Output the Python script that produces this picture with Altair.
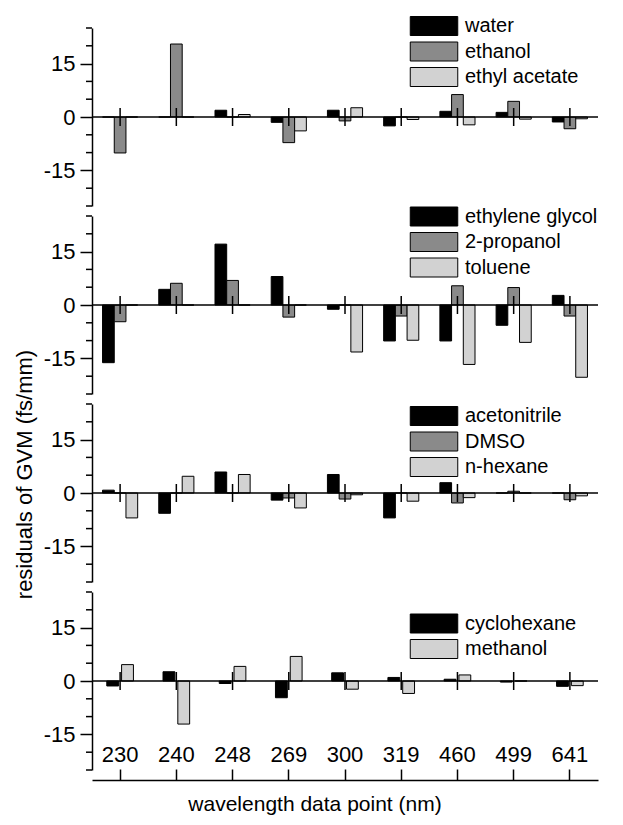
import altair as alt
import pandas as pd

# wavelength categories (x axis)
categories = ["230", "240", "248", "269", "300", "319", "460", "499", "641"]

# panel 1
p1_names = ["water", "ethanol", "ethyl acetate"]
water = [0, 0, 1.9, -1.5, 1.9, -2.5, 1.6, 1.3, -1.4]
ethanol = [-10.1, 20.5, 0, -7.2, -1.1, 0, 6.3, 4.4, -3.3]
ethyl_acetate = [0, 0, 0.7, -3.9, 2.6, -0.7, -2.2, -0.6, -0.5]

# panel 2
p2_names = ["ethylene glycol", "2-propanol", "toluene"]
ethylene_glycol = [-16.2, 4.4, 17.1, 8.0, -1.2, -10.1, -10.1, -5.7, 2.7]
propanol_2 = [-4.7, 6.1, 6.9, -3.4, 0, -3.1, 5.4, 4.9, -3.1]
toluene = [0, 0, 0, 0, -13.2, -9.9, -16.7, -10.5, -20.3]

# panel 3
p3_names = ["acetonitrile", "DMSO", "n-hexane"]
acetonitrile = [0.8, -5.7, 5.9, -2.0, 5.2, -7.0, 2.9, 0, 0]
dmso = [0, 0, 0, -1.4, -1.7, 0, -2.8, 0.5, -1.9]
n_hexane = [-7.0, 4.7, 5.2, -4.2, -0.5, -2.3, -1.3, 0, -0.8]

# panel 4
p4_names = ["cyclohexane", "methanol"]
cyclohexane = [-1.4, 2.6, -0.7, -4.7, 2.3, 1.0, 0.5, -0.3, -1.5]
methanol = [4.6, -12.1, 4.1, 6.9, -2.3, -3.5, 1.7, 0, -1.3]

y_major = [-15, 0, 15]
y_minor = [-25, -20, -10, -5, 5, 10, 20, 25]

FONT = "Liberation Sans"
W, H = 506, 178
SOLID, CROSS, DIAG = "#000000", "#8a8a8a", "#d2d2d2"

x_scale = alt.Scale(domain=categories, paddingInner=0, paddingOuter=0)
y_scale = alt.Scale(domain=[-25, 25], nice=False, zero=False)


def panel(names, series, fills, legend_y, pad_inner, pad_outer, y_title=False):
    rows = []
    for n, vals in zip(names, series):
        for c, v in zip(categories, vals):
            rows.append({"wl": c, "series": n, "value": v})
    df = pd.DataFrame(rows)

    axis_kw = dict(
        values=y_major,
        labelExpr="datum.value < 0 ? '-' + format(-datum.value, 'd') : format(datum.value, 'd')",
        labelOverlap=False,
        tickSize=12,
        tickColor="black", tickWidth=1.5, domainColor="black", domainWidth=1.5,
        labelFontSize=22, labelPadding=5, labelColor="black", labelFont=FONT,
        grid=False,
    )
    if y_title:
        axis_kw.update(title="residuals of GVM (fs/mm)", titleFontSize=22, titleFont=FONT,
                       titleFontWeight="normal", titleColor="black", titlePadding=7, titleY=70)
    else:
        axis_kw.update(title=None)

    bars = alt.Chart(df).mark_bar(stroke="black", strokeWidth=1).encode(
        x=alt.X("wl:N", sort=categories, scale=x_scale, axis=None),
        xOffset=alt.XOffset("series:N", sort=names,
                            scale=alt.Scale(domain=names, paddingInner=pad_inner, paddingOuter=pad_outer)),
        y=alt.Y("value:Q", scale=y_scale, axis=alt.Axis(**axis_kw)),
        fill=alt.Fill("series:N", sort=names, scale=alt.Scale(domain=names, range=fills),
                      legend=alt.Legend(orient="none", legendX=332, legendY=legend_y, title=None,
                                        symbolType="M-2.5,-1L2.5,-1L2.5,1L-2.5,1Z", symbolSize=361,
                                        symbolStrokeColor="black", symbolStrokeWidth=1,
                                        labelFontSize=20, labelFont=FONT, labelColor="black",
                                        labelOffset=21, rowPadding=1.5, padding=0)),
    )
    zero = alt.Chart(pd.DataFrame({"value": [0]})).mark_rule(color="black", strokeWidth=1.5).encode(
        y=alt.Y("value:Q", scale=y_scale, axis=alt.Axis(**axis_kw))
    )
    minor = alt.Chart(pd.DataFrame({"value": y_minor})).mark_rule(
        color="black", strokeWidth=1.5, clip=False
    ).encode(
        x=alt.value(-6), x2=alt.value(0),
        y=alt.Y("value:Q", scale=y_scale, axis=alt.Axis(**axis_kw)),
    )
    # category ticks crossing the zero line
    cat_ticks = alt.Chart(pd.DataFrame({"wl": categories})).mark_rule(
        color="black", strokeWidth=1.5
    ).encode(
        x=alt.X("wl:N", sort=categories, scale=x_scale, axis=None),
        y=alt.value(H / 2 - 9), y2=alt.value(H / 2 + 9),
    )
    return alt.layer(bars, zero, minor, cat_ticks).properties(width=W, height=H)


p1 = panel(p1_names, [water, ethanol, ethyl_acetate], [SOLID, CROSS, DIAG], -12, 0, 0.9)
p2 = panel(p2_names, [ethylene_glycol, propanol_2, toluene], [SOLID, CROSS, DIAG], -9.5, 0, 0.9)
p3 = panel(p3_names, [acetonitrile, dmso, n_hexane], [SOLID, CROSS, DIAG], 2, 0, 0.9, y_title=True)
p4 = panel(p4_names, [cyclohexane, methanol], [SOLID, DIAG], 21.5, 0.2, 1)

axis_df = pd.DataFrame({"wl": categories})
x_axis_chart = alt.Chart(axis_df).mark_tick(opacity=0).encode(
    x=alt.X("wl:N", sort=categories, scale=x_scale,
            axis=alt.Axis(orient="top", domainColor="black", domainWidth=1.5, tickColor="black",
                          tickWidth=1.5, tickSize=11, labelFontSize=22, labelFont=FONT,
                          labelColor="black", labelPadding=3, labelAngle=0, title=None, grid=False))
).properties(
    width=W, height=1,
    title=alt.TitleParams("wavelength data point (nm)", orient="bottom", fontSize=21, font=FONT,
                          fontWeight="normal", color="black", offset=13, dx=-30),
)

chart = alt.vconcat(p1, p2, p3, p4, x_axis_chart, spacing=10, bounds="flush").resolve_scale(
    fill="independent", xOffset="independent"
).resolve_legend(fill="independent").properties(
    padding={"left": 5, "top": 8, "right": 5, "bottom": 5}, background="white"
).configure_view(strokeWidth=0)

chart.save("out.html", embed_options={"renderer": "svg", "actions": False})
